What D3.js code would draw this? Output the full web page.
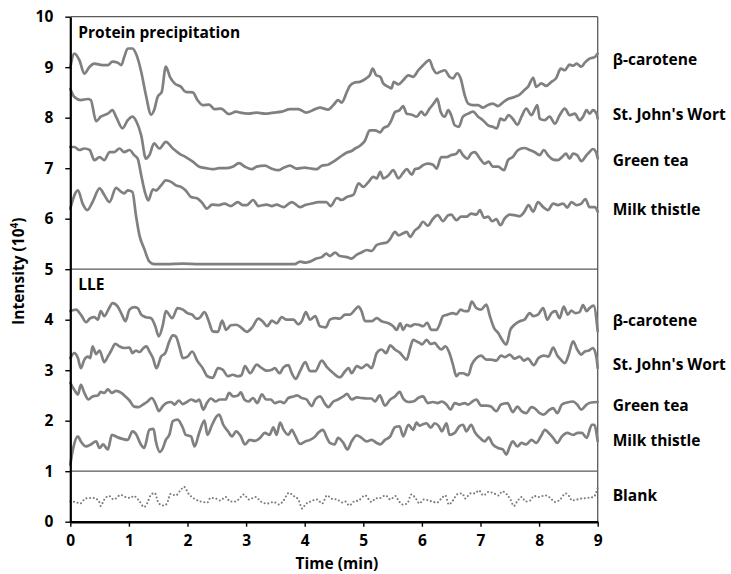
<!DOCTYPE html>
<html>
<head>
<meta charset="utf-8">
<script src="https://cdn.jsdelivr.net/npm/d3@7"></script>
<style>
  html, body { margin: 0; padding: 0; background: #fff; }
  svg { display: block; font-family: "Open Sans", "DejaVu Sans", sans-serif; font-weight: 700; }
</style>
</head>
<body>
<svg id="chart" width="731" height="574"></svg>
<script>
// Intensity traces, [time (min), intensity (10^4)]
const ppBetaCarotene = [[0,9.0],[0.07,9.27],[0.155,9.14],[0.24,8.87],[0.33,9.01],[0.41,9.07],[0.55,9.04],[0.64,9.04],[0.72,9.11],[0.81,9.09],[0.87,9.04],[0.92,9.2],[0.98,9.37],[1.06,9.37],[1.12,9.27],[1.21,8.91],[1.29,8.45],[1.38,8.06],[1.43,8.15],[1.49,8.41],[1.56,8.51],[1.63,9.01],[1.7,8.81],[1.78,8.68],[1.89,8.61],[1.97,8.51],[2.09,8.5],[2.17,8.35],[2.26,8.25],[2.37,8.26],[2.46,8.17],[2.57,8.18],[2.71,8.07],[2.83,8.12],[2.9,8.1],[3.04,8.08],[3.18,8.1],[3.32,8.08],[3.465,8.1],[3.61,8.12],[3.75,8.17],[3.89,8.17],[4.03,8.1],[4.18,8.17],[4.26,8.2],[4.4,8.16],[4.49,8.25],[4.57,8.35],[4.63,8.3],[4.72,8.51],[4.77,8.63],[4.86,8.7],[4.94,8.71],[5.05,8.78],[5.11,8.84],[5.16,8.97],[5.22,8.84],[5.29,8.81],[5.34,8.68],[5.43,8.61],[5.48,8.58],[5.52,8.71],[5.6,8.66],[5.68,8.74],[5.77,8.84],[5.85,8.81],[5.94,8.94],[6.02,9.04],[6.13,9.14],[6.19,8.97],[6.25,8.88],[6.33,8.92],[6.39,8.94],[6.47,8.81],[6.53,8.78],[6.6,8.88],[6.66,8.78],[6.73,8.45],[6.79,8.28],[6.87,8.25],[6.96,8.25],[7.04,8.2],[7.13,8.25],[7.21,8.28],[7.3,8.23],[7.38,8.3],[7.47,8.37],[7.58,8.41],[7.67,8.46],[7.75,8.55],[7.81,8.61],[7.9,8.79],[7.95,8.61],[8.04,8.68],[8.12,8.63],[8.21,8.71],[8.29,8.78],[8.37,8.97],[8.44,8.94],[8.52,9.05],[8.58,9.03],[8.64,9.07],[8.72,9.01],[8.78,9.09],[8.86,9.17],[8.95,9.2],[9.0,9.27]];

const ppStJohnsWort = [[0,8.57],[0.07,8.41],[0.18,8.35],[0.3,8.37],[0.35,8.35],[0.44,7.93],[0.52,8.02],[0.64,8.08],[0.72,8.15],[0.78,8.02],[0.89,7.79],[0.98,7.95],[1.06,8.02],[1.13,7.92],[1.21,7.65],[1.29,7.19],[1.35,7.26],[1.43,7.49],[1.52,7.39],[1.63,7.52],[1.75,7.39],[1.86,7.29],[1.97,7.22],[2.09,7.13],[2.2,7.03],[2.32,7.0],[2.43,6.98],[2.54,7.0],[2.66,7.0],[2.77,7.03],[2.88,7.1],[2.98,7.03],[3.1,6.98],[3.18,7.03],[3.32,7.05],[3.44,6.99],[3.55,6.96],[3.64,7.01],[3.75,7.05],[3.86,6.99],[4.0,7.01],[4.12,6.99],[4.2,6.98],[4.29,7.05],[4.4,7.07],[4.49,7.13],[4.6,7.22],[4.72,7.31],[4.8,7.34],[4.86,7.39],[4.94,7.44],[5.03,7.55],[5.11,7.75],[5.2,7.75],[5.29,7.71],[5.34,7.79],[5.43,7.85],[5.48,7.95],[5.54,8.11],[5.62,8.15],[5.68,8.23],[5.74,8.08],[5.83,8.06],[5.91,8.02],[5.99,8.12],[6.05,8.05],[6.13,8.18],[6.22,8.31],[6.26,8.38],[6.32,8.12],[6.39,8.02],[6.45,8.15],[6.5,8.05],[6.56,7.85],[6.63,7.82],[6.7,8.02],[6.79,8.08],[6.87,8.12],[6.96,8.02],[7.04,7.95],[7.13,7.85],[7.21,7.82],[7.28,7.79],[7.34,7.98],[7.41,7.95],[7.48,8.05],[7.55,7.98],[7.63,7.86],[7.7,8.02],[7.78,8.18],[7.87,8.05],[7.92,8.15],[7.97,8.25],[8.01,7.98],[8.09,7.95],[8.18,8.02],[8.27,7.88],[8.35,8.05],[8.44,8.18],[8.52,8.05],[8.61,8.08],[8.69,7.95],[8.75,8.02],[8.81,8.15],[8.86,8.08],[8.92,8.15],[8.98,8.08],[9.0,7.98]];

const ppGreenTea = [[0,7.42],[0.07,7.42],[0.155,7.36],[0.24,7.39],[0.33,7.36],[0.41,7.16],[0.5,7.22],[0.58,7.16],[0.67,7.32],[0.75,7.32],[0.84,7.39],[0.92,7.32],[1.01,7.36],[1.09,7.26],[1.15,7.19],[1.21,6.86],[1.28,6.5],[1.33,6.36],[1.41,6.58],[1.46,6.56],[1.55,6.66],[1.63,6.76],[1.72,6.73],[1.8,6.66],[1.89,6.63],[1.97,6.56],[2.06,6.43],[2.17,6.4],[2.26,6.3],[2.33,6.2],[2.42,6.28],[2.54,6.27],[2.63,6.3],[2.74,6.25],[2.86,6.33],[2.94,6.27],[3.01,6.27],[3.12,6.37],[3.21,6.25],[3.35,6.28],[3.44,6.25],[3.52,6.28],[3.64,6.23],[3.78,6.33],[3.92,6.23],[4.01,6.27],[4.12,6.3],[4.23,6.33],[4.37,6.33],[4.44,6.25],[4.55,6.41],[4.63,6.37],[4.72,6.43],[4.83,6.47],[4.92,6.7],[5.0,6.63],[5.09,6.73],[5.17,6.83],[5.23,6.8],[5.29,6.93],[5.34,6.8],[5.43,6.86],[5.51,6.96],[5.6,6.8],[5.68,6.91],[5.74,6.98],[5.83,6.87],[5.88,6.98],[5.95,7.0],[6.02,7.06],[6.1,7.09],[6.19,7.07],[6.25,6.99],[6.33,7.22],[6.42,7.22],[6.5,7.26],[6.59,7.29],[6.64,7.36],[6.7,7.26],[6.78,7.19],[6.84,7.29],[6.9,7.32],[6.99,7.19],[7.07,7.09],[7.14,7.13],[7.21,7.03],[7.3,7.03],[7.4,6.96],[7.47,7.16],[7.55,7.22],[7.64,7.36],[7.75,7.4],[7.84,7.36],[7.92,7.32],[8.01,7.26],[8.08,7.36],[8.15,7.26],[8.24,7.17],[8.32,7.16],[8.39,7.22],[8.46,7.29],[8.52,7.19],[8.58,7.29],[8.65,7.26],[8.72,7.14],[8.81,7.26],[8.86,7.32],[8.92,7.38],[8.98,7.29],[9.0,7.19]];

const ppMilkThistle = [[0,6.2],[0.13,6.56],[0.21,6.3],[0.29,6.17],[0.38,6.33],[0.5,6.6],[0.58,6.47],[0.67,6.33],[0.78,6.61],[0.87,6.53],[0.92,6.5],[0.98,6.56],[1.06,6.53],[1.12,6.07],[1.18,5.67],[1.26,5.41],[1.35,5.15],[1.43,5.1],[1.63,5.1],[1.92,5.11],[2.2,5.1],[2.9,5.1],[3.465,5.1],[3.83,5.1],[3.92,5.15],[4.01,5.13],[4.09,5.15],[4.2,5.21],[4.29,5.24],[4.37,5.31],[4.43,5.26],[4.52,5.33],[4.6,5.26],[4.72,5.24],[4.8,5.21],[4.89,5.29],[4.97,5.33],[5.06,5.38],[5.14,5.36],[5.23,5.48],[5.31,5.51],[5.4,5.53],[5.46,5.6],[5.54,5.74],[5.6,5.67],[5.68,5.71],[5.74,5.74],[5.8,5.64],[5.88,5.77],[5.95,5.83],[6.02,5.94],[6.1,5.86],[6.19,6.0],[6.27,6.07],[6.36,5.95],[6.45,6.07],[6.5,6.08],[6.59,5.97],[6.67,6.04],[6.76,6.04],[6.84,6.1],[6.93,6.08],[6.99,6.17],[7.06,6.02],[7.13,6.04],[7.2,5.95],[7.27,5.99],[7.34,5.87],[7.41,6.0],[7.5,6.08],[7.58,6.07],[7.67,6.05],[7.75,6.14],[7.82,6.27],[7.9,6.14],[7.98,6.33],[8.07,6.23],[8.15,6.17],[8.24,6.3],[8.32,6.27],[8.41,6.3],[8.48,6.22],[8.55,6.33],[8.64,6.27],[8.72,6.3],[8.79,6.39],[8.86,6.23],[8.95,6.23],[9.0,6.14]];

const lleBetaCarotene = [[0,4.17],[0.1,4.2],[0.18,4.1],[0.27,3.95],[0.34,4.03],[0.41,4.05],[0.47,4.0],[0.52,4.17],[0.58,4.07],[0.65,4.2],[0.72,4.33],[0.81,4.26],[0.88,4.1],[0.94,3.97],[1.01,4.2],[1.09,4.25],[1.15,4.23],[1.21,4.1],[1.29,4.05],[1.38,4.03],[1.45,3.87],[1.51,3.67],[1.58,3.9],[1.63,4.17],[1.74,4.03],[1.83,4.23],[1.92,4.2],[2.0,4.13],[2.08,4.1],[2.15,4.02],[2.2,4.03],[2.29,4.15],[2.36,3.98],[2.43,3.77],[2.52,3.76],[2.59,3.98],[2.66,3.8],[2.74,3.89],[2.83,3.9],[2.91,3.85],[3.01,3.76],[3.1,3.84],[3.21,4.02],[3.28,3.97],[3.36,3.87],[3.44,3.98],[3.52,3.93],[3.61,4.05],[3.69,4.0],[3.81,4.0],[3.89,3.91],[3.95,3.97],[4.02,4.15],[4.09,4.0],[4.18,4.07],[4.26,3.87],[4.36,3.85],[4.43,4.0],[4.52,4.03],[4.6,4.02],[4.69,4.1],[4.77,4.1],[4.86,4.2],[4.92,4.26],[4.97,4.17],[5.03,3.97],[5.14,3.97],[5.23,4.03],[5.31,3.97],[5.43,3.93],[5.51,3.87],[5.57,3.8],[5.63,3.93],[5.68,3.8],[5.74,3.9],[5.8,3.87],[5.88,3.91],[5.95,3.9],[6.02,3.87],[6.09,3.94],[6.16,3.8],[6.25,3.8],[6.3,3.9],[6.36,4.07],[6.44,4.1],[6.53,4.13],[6.59,4.11],[6.66,4.2],[6.73,4.17],[6.79,4.17],[6.85,4.36],[6.93,4.23],[7.01,4.2],[7.1,4.3],[7.16,4.07],[7.23,3.84],[7.3,3.74],[7.37,3.6],[7.44,3.51],[7.51,3.8],[7.58,3.9],[7.67,3.97],[7.75,4.0],[7.84,4.13],[7.9,4.07],[7.98,4.1],[8.07,4.23],[8.14,4.0],[8.21,4.13],[8.28,4.17],[8.35,4.03],[8.42,4.26],[8.49,4.1],[8.55,4.18],[8.62,4.13],[8.69,4.15],[8.75,4.29],[8.81,4.17],[8.86,4.23],[8.93,4.28],[9.0,3.77]];

const lleStJohnsWort = [[0,3.24],[0.07,3.34],[0.13,3.24],[0.18,3.04],[0.24,3.21],[0.3,3.27],[0.34,3.24],[0.38,3.47],[0.44,3.32],[0.5,3.39],[0.58,3.16],[0.64,3.27],[0.69,3.37],[0.77,3.52],[0.84,3.47],[0.92,3.44],[1.01,3.45],[1.06,3.34],[1.12,3.39],[1.18,3.36],[1.25,3.44],[1.3,3.47],[1.35,3.37],[1.41,3.24],[1.47,3.04],[1.55,3.27],[1.62,3.34],[1.69,3.57],[1.75,3.69],[1.8,3.67],[1.86,3.47],[1.92,3.24],[2.0,3.27],[2.08,3.37],[2.17,3.18],[2.26,3.04],[2.34,2.88],[2.43,2.85],[2.52,3.04],[2.6,3.01],[2.69,2.88],[2.77,2.91],[2.86,2.88],[2.92,2.9],[2.98,3.08],[3.07,2.94],[3.18,3.11],[3.27,3.04],[3.35,2.99],[3.44,3.01],[3.49,3.04],[3.57,2.94],[3.64,3.06],[3.72,3.1],[3.78,2.94],[3.85,2.83],[3.92,2.98],[4.01,3.16],[4.09,2.98],[4.18,2.98],[4.29,3.19],[4.38,3.06],[4.49,2.94],[4.6,2.86],[4.69,2.98],[4.75,3.04],[4.8,2.94],[4.89,3.08],[4.97,3.04],[5.06,3.11],[5.14,3.04],[5.23,3.34],[5.31,3.41],[5.39,3.34],[5.46,3.49],[5.54,3.41],[5.63,3.34],[5.68,3.27],[5.74,3.21],[5.8,3.44],[5.85,3.6],[5.91,3.57],[5.96,3.54],[6.0,3.51],[6.08,3.6],[6.15,3.52],[6.22,3.54],[6.27,3.47],[6.33,3.41],[6.4,3.47],[6.47,3.34],[6.53,3.11],[6.59,2.88],[6.64,2.94],[6.7,2.94],[6.79,2.9],[6.85,3.11],[6.93,3.24],[7.01,3.29],[7.1,3.21],[7.18,3.21],[7.27,3.19],[7.35,3.29],[7.42,3.26],[7.5,3.31],[7.58,3.23],[7.67,3.27],[7.74,3.19],[7.81,3.23],[7.91,3.1],[7.99,3.24],[8.08,3.29],[8.16,3.27],[8.24,3.45],[8.31,3.29],[8.37,3.21],[8.44,3.14],[8.5,3.29],[8.58,3.57],[8.65,3.41],[8.72,3.31],[8.78,3.37],[8.85,3.39],[8.92,3.44],[8.98,3.24],[9.0,3.04]];

const lleGreenTea = [[0,2.75],[0.07,2.61],[0.13,2.52],[0.18,2.71],[0.24,2.55],[0.31,2.42],[0.38,2.48],[0.47,2.5],[0.52,2.57],[0.58,2.55],[0.64,2.62],[0.71,2.55],[0.78,2.59],[0.87,2.55],[0.94,2.48],[1.01,2.4],[1.09,2.28],[1.17,2.27],[1.24,2.32],[1.32,2.38],[1.39,2.45],[1.46,2.32],[1.51,2.19],[1.58,2.29],[1.64,2.35],[1.72,2.37],[1.78,2.32],[1.85,2.4],[1.92,2.33],[1.99,2.37],[2.06,2.42],[2.15,2.38],[2.2,2.42],[2.27,2.22],[2.33,2.35],[2.4,2.44],[2.48,2.38],[2.55,2.42],[2.65,2.42],[2.71,2.55],[2.78,2.48],[2.86,2.5],[2.91,2.56],[2.97,2.42],[3.04,2.38],[3.12,2.45],[3.19,2.35],[3.27,2.52],[3.34,2.42],[3.42,2.42],[3.49,2.35],[3.58,2.38],[3.65,2.35],[3.72,2.45],[3.81,2.48],[3.87,2.5],[3.95,2.45],[4.03,2.42],[4.12,2.29],[4.18,2.42],[4.26,2.48],[4.35,2.33],[4.4,2.27],[4.49,2.38],[4.57,2.42],[4.66,2.48],[4.72,2.53],[4.8,2.42],[4.89,2.46],[4.97,2.45],[5.06,2.44],[5.14,2.44],[5.2,2.38],[5.28,2.5],[5.37,2.3],[5.46,2.42],[5.54,2.48],[5.62,2.57],[5.68,2.44],[5.77,2.37],[5.85,2.38],[5.95,2.46],[6.02,2.48],[6.1,2.35],[6.19,2.37],[6.27,2.35],[6.34,2.38],[6.42,2.32],[6.49,2.22],[6.56,2.35],[6.64,2.32],[6.73,2.35],[6.79,2.32],[6.85,2.37],[6.93,2.42],[7.01,2.3],[7.1,2.3],[7.18,2.28],[7.27,2.19],[7.35,2.32],[7.46,2.35],[7.55,2.17],[7.63,2.28],[7.7,2.19],[7.78,2.15],[7.87,2.27],[7.92,2.25],[8.01,2.15],[8.08,2.12],[8.16,2.2],[8.24,2.25],[8.31,2.15],[8.39,2.32],[8.48,2.36],[8.58,2.38],[8.65,2.32],[8.72,2.22],[8.81,2.32],[8.89,2.36],[9.0,2.37]];

const lleMilkThistle = [[0,1.13],[0.05,1.46],[0.13,1.69],[0.18,1.59],[0.27,1.49],[0.35,1.53],[0.44,1.59],[0.5,1.46],[0.56,1.53],[0.64,1.43],[0.71,1.72],[0.81,1.67],[0.89,1.64],[0.98,1.62],[1.06,1.79],[1.13,1.72],[1.19,1.56],[1.26,1.46],[1.35,1.82],[1.42,1.84],[1.46,1.59],[1.53,1.38],[1.58,1.46],[1.63,1.62],[1.69,1.72],[1.75,1.99],[1.83,2.02],[1.92,1.86],[1.97,1.72],[2.06,1.69],[2.12,1.49],[2.2,1.76],[2.29,2.0],[2.34,1.72],[2.42,1.92],[2.5,2.09],[2.54,2.12],[2.61,1.92],[2.69,1.79],[2.76,1.69],[2.83,1.79],[2.91,1.69],[2.98,1.53],[3.06,1.62],[3.15,1.6],[3.24,1.66],[3.32,1.76],[3.4,1.72],[3.465,1.87],[3.52,1.72],[3.58,1.96],[3.64,1.82],[3.72,1.72],[3.78,1.82],[3.83,1.72],[3.92,1.54],[4.01,1.59],[4.09,1.62],[4.18,1.69],[4.23,1.76],[4.31,1.82],[4.38,1.66],[4.43,1.56],[4.51,1.53],[4.57,1.66],[4.66,1.56],[4.73,1.43],[4.8,1.59],[4.89,1.71],[4.97,1.66],[5.06,1.59],[5.14,1.62],[5.23,1.56],[5.29,1.53],[5.37,1.62],[5.46,1.69],[5.54,1.87],[5.62,1.89],[5.68,1.69],[5.77,1.92],[5.85,1.82],[5.91,1.96],[5.96,1.9],[6.0,1.92],[6.08,1.95],[6.15,1.86],[6.22,1.95],[6.29,1.89],[6.34,1.79],[6.42,1.95],[6.47,1.72],[6.56,1.76],[6.64,1.89],[6.7,1.92],[6.76,1.79],[6.84,1.92],[6.91,1.76],[6.99,1.66],[7.07,1.59],[7.14,1.67],[7.21,1.53],[7.3,1.46],[7.38,1.43],[7.44,1.33],[7.5,1.49],[7.55,1.59],[7.63,1.49],[7.7,1.56],[7.78,1.53],[7.87,1.62],[7.95,1.56],[8.03,1.69],[8.1,1.82],[8.16,1.76],[8.24,1.66],[8.31,1.56],[8.39,1.69],[8.48,1.76],[8.58,1.72],[8.66,1.76],[8.73,1.76],[8.81,1.66],[8.9,1.92],[8.94,1.92],[9.0,1.59]];

const blank = [[0,0.4],[0.09,0.39],[0.17,0.36],[0.26,0.46],[0.4,0.47],[0.49,0.4],[0.52,0.31],[0.57,0.42],[0.66,0.51],[0.74,0.44],[0.86,0.53],[0.94,0.49],[1.03,0.47],[1.08,0.51],[1.17,0.42],[1.26,0.29],[1.31,0.36],[1.37,0.52],[1.44,0.57],[1.51,0.36],[1.6,0.32],[1.65,0.36],[1.71,0.55],[1.8,0.52],[1.88,0.62],[1.94,0.69],[2.02,0.55],[2.11,0.46],[2.22,0.4],[2.34,0.38],[2.39,0.47],[2.48,0.46],[2.56,0.42],[2.65,0.49],[2.73,0.4],[2.82,0.4],[2.91,0.49],[2.96,0.54],[3.05,0.44],[3.16,0.49],[3.25,0.4],[3.36,0.36],[3.47,0.39],[3.56,0.34],[3.64,0.42],[3.73,0.57],[3.81,0.51],[3.89,0.44],[3.96,0.26],[4.01,0.34],[4.1,0.4],[4.21,0.44],[4.3,0.36],[4.38,0.52],[4.47,0.45],[4.55,0.44],[4.64,0.38],[4.69,0.4],[4.76,0.32],[4.84,0.4],[4.92,0.42],[5.03,0.52],[5.14,0.39],[5.21,0.46],[5.29,0.47],[5.38,0.52],[5.46,0.44],[5.55,0.51],[5.6,0.42],[5.67,0.34],[5.75,0.36],[5.82,0.54],[5.89,0.47],[5.96,0.36],[6.03,0.44],[6.12,0.42],[6.17,0.4],[6.26,0.38],[6.34,0.47],[6.4,0.52],[6.46,0.34],[6.53,0.42],[6.6,0.54],[6.69,0.56],[6.74,0.46],[6.83,0.56],[6.91,0.56],[6.97,0.62],[7.05,0.52],[7.14,0.59],[7.23,0.56],[7.31,0.52],[7.37,0.6],[7.45,0.54],[7.51,0.44],[7.57,0.31],[7.62,0.39],[7.7,0.49],[7.77,0.4],[7.85,0.42],[7.91,0.51],[7.99,0.49],[8.11,0.52],[8.19,0.47],[8.27,0.39],[8.36,0.44],[8.45,0.56],[8.51,0.51],[8.56,0.42],[8.65,0.44],[8.73,0.46],[8.82,0.47],[8.93,0.49],[9.0,0.67]];

const seriesNames = ["β-carotene", "St. John's Wort", "Green tea", "Milk thistle"];
const blankName = "Blank";
const panelTitles = ["Protein precipitation", "LLE"];
const panelBounds = [5, 1];          // intensity levels where panels meet
const panelTops = [10, 5];           // intensity level at top of each panel
const xTicks = [0, 1, 2, 3, 4, 5, 6, 7, 8, 9];
const yTicks = [0, 1, 2, 3, 4, 5, 6, 7, 8, 9, 10];
// baseline level (intensity units) of each trace's name on the right
const ppLabelLevels = [9.04, 7.95, 7.04, 6.07];
const lleLabelLevels = [3.875, 3.0, 2.19, 1.5];
const blankLabelLevel = 0.41;

const svg = d3.select("#chart");
const plotLeft = 70.3, plotRight = 597.7, plotTop = 16.7, plotBottom = 521.7;
const fontSize = 15.5;

const x = d3.scaleLinear().domain([0, 9]).range([plotLeft, plotRight]);
const y = d3.scaleLinear().domain([0, 10]).range([plotBottom, plotTop]);

const line = d3.line()
  .x(d => x(d[0]))
  .y(d => y(d[1]))
  .curve(d3.curveMonotoneX);

const lineColor = "#808080";

// frame: top and right edges, panel separators
const frame = svg.append("g").attr("stroke", "#5a5a5a").attr("fill", "none");
frame.append("line").attr("x1", plotLeft).attr("x2", plotRight).attr("y1", y(10)).attr("y2", y(10)).attr("stroke-width", 1.3);
frame.append("line").attr("x1", plotRight).attr("x2", plotRight).attr("y1", y(10)).attr("y2", y(0)).attr("stroke-width", 1.3);
frame.selectAll("line.sep").data(panelBounds).join("line")
  .attr("class", "sep")
  .attr("x1", plotLeft).attr("x2", plotRight)
  .attr("y1", d => y(d)).attr("y2", d => y(d))
  .attr("stroke-width", 1.3);

// traces
const ppSeries = [ppBetaCarotene, ppStJohnsWort, ppGreenTea, ppMilkThistle];
const lleSeries = [lleBetaCarotene, lleStJohnsWort, lleGreenTea, lleMilkThistle];

svg.append("g").selectAll("path")
  .data(ppSeries.concat(lleSeries)).join("path")
  .attr("d", line)
  .attr("fill", "none")
  .attr("stroke", lineColor)
  .attr("stroke-width", 2.7)
  .attr("stroke-linejoin", "round")
  .attr("stroke-linecap", "round");

svg.append("path")
  .attr("d", line(blank))
  .attr("fill", "none")
  .attr("stroke", "#7a7a7a")
  .attr("stroke-width", 2.1)
  .attr("stroke-linecap", "round")
  .attr("stroke-dasharray", "0 3.7");

// axes
const yAxis = svg.append("g")
  .attr("transform", `translate(${plotLeft},0)`)
  .call(d3.axisLeft(y).tickValues(yTicks).tickSize(5).tickSizeOuter(0).tickPadding(12).tickFormat(d3.format("d")));
yAxis.select(".domain").attr("stroke", "#000").attr("stroke-width", 2.2);
yAxis.selectAll(".tick line").attr("stroke", "#000").attr("stroke-width", 1.4);
yAxis.selectAll(".tick text").attr("font-size", fontSize).attr("font-weight", 700)
  .attr("font-family", "'Open Sans', sans-serif").attr("fill", "#000");

const xAxis = svg.append("g")
  .attr("transform", `translate(0,${plotBottom})`)
  .call(d3.axisBottom(x).tickValues(xTicks).tickSize(5).tickSizeOuter(0).tickPadding(8).tickFormat(d3.format("d")));
xAxis.select(".domain").attr("stroke", "#000").attr("stroke-width", 2.6);
xAxis.selectAll(".tick line").attr("stroke", "#000").attr("stroke-width", 1.4);
xAxis.selectAll(".tick text").attr("font-size", fontSize).attr("font-weight", 700)
  .attr("font-family", "'Open Sans', sans-serif").attr("fill", "#000");

// panel titles
svg.append("g").selectAll("text")
  .data(panelTitles).join("text")
  .attr("x", plotLeft + 8)
  .attr("y", (d, i) => y(panelTops[i]) + 21)
  .attr("font-size", fontSize)
  .attr("fill", "#000")
  .text(d => d);

// trace names on the right
const names = svg.append("g").attr("font-size", fontSize).attr("fill", "#000");
names.selectAll("text.pp").data(seriesNames).join("text")
  .attr("class", "pp")
  .attr("x", plotRight + 15)
  .attr("y", (d, i) => y(ppLabelLevels[i]))
  .text(d => d);
names.selectAll("text.lle").data(seriesNames).join("text")
  .attr("class", "lle")
  .attr("x", plotRight + 15)
  .attr("y", (d, i) => y(lleLabelLevels[i]))
  .text(d => d);
names.append("text")
  .attr("x", plotRight + 15)
  .attr("y", y(blankLabelLevel))
  .text(blankName);

// axis titles
svg.append("text")
  .attr("x", (plotLeft + plotRight) / 2 + 3)
  .attr("y", 568.5)
  .attr("text-anchor", "middle")
  .attr("font-size", fontSize)
  .text("Time (min)");

const yTitle = svg.append("text")
  .attr("transform", `translate(24,${(plotTop + plotBottom) / 2 + 2}) rotate(-90)`)
  .attr("text-anchor", "middle")
  .attr("font-size", fontSize);
yTitle.append("tspan").text("Intensity (10");
yTitle.append("tspan").attr("font-size", 10).attr("dy", -6).text("4");
yTitle.append("tspan").attr("dy", 6).text(")");
</script>
</body>
</html>
